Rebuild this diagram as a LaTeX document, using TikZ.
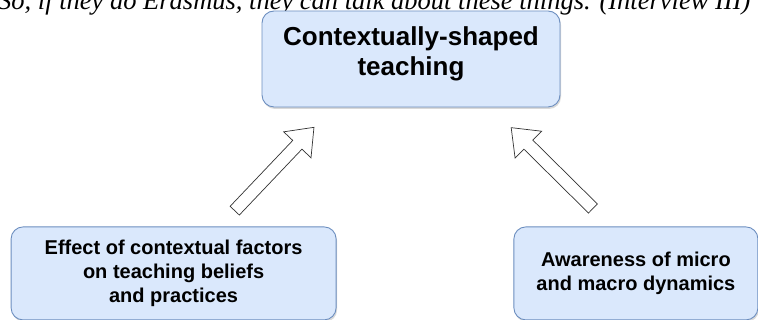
\documentclass[tikz,border=0pt]{standalone}
\usepackage{fontspec}
\setmainfont{Liberation Sans}
\newfontfamily\quotefont{Liberation Serif}
\usetikzlibrary{shapes,shapes.arrows,arrows,fit,calc,positioning,shadows}
\definecolor{boxfill}{HTML}{DAE8FC}
\definecolor{boxline}{HTML}{6C8EBF}

\begin{document}
\begin{tikzpicture}
   [x=1pt,y=1pt,
    box/.style={draw=boxline, fill=boxfill, rounded corners=12pt, line width=0.9pt, align=center,
      font=\bfseries\fontsize{20}{24}\selectfont,
      drop shadow={shadow xshift=1pt, shadow yshift=-2pt, opacity=0.3}},
    hollow/.style={single arrow, draw=black!80, fill=white, line width=0.7pt, inner sep=6pt,
      minimum width=37pt, minimum height=115pt, single arrow head extend=12.5pt,
      single arrow tip angle=76, sloped, allow upside down}]
   \useasboundingbox (0,0) rectangle (758,320);
   \node[anchor=base west, inner sep=0pt, font=\quotefont\itshape\fontsize{26.5}{30}\selectfont] (quote) at (-2,310) {So, if they do Erasmus, they can talk about these things. (Interview III)};
   \node[box, minimum width=298pt, minimum height=96pt, font=\bfseries\fontsize{26}{30}\selectfont] (ctx) at (411,261) {Contextually-shaped\\teaching\rule[-16pt]{0pt}{0pt}};
   \node[box, minimum width=325pt, minimum height=93pt, below left=119pt and -75pt of ctx] (effect) {Effect of contextual factors\\on teaching beliefs\\and practices};
   \node[box, minimum width=244pt, minimum height=93pt, below right=119pt and -47pt of ctx] (aware) {Awareness of micro\\and macro dynamics};
   \coordinate[above right=13pt and 58.5pt of effect.north] (tail1);
   \coordinate[below left=23pt and 100pt of ctx.south] (tip1);
   \coordinate[above left=14pt and 39pt of aware.north] (tail2);
   \coordinate[below right=22pt and 102pt of ctx.south] (tip2);
   \path (tail1) -- node[hollow] (arr1) {} (tip1);
   \path (tail2) -- node[hollow] (arr2) {} (tip2);
\end{tikzpicture}
\end{document}
